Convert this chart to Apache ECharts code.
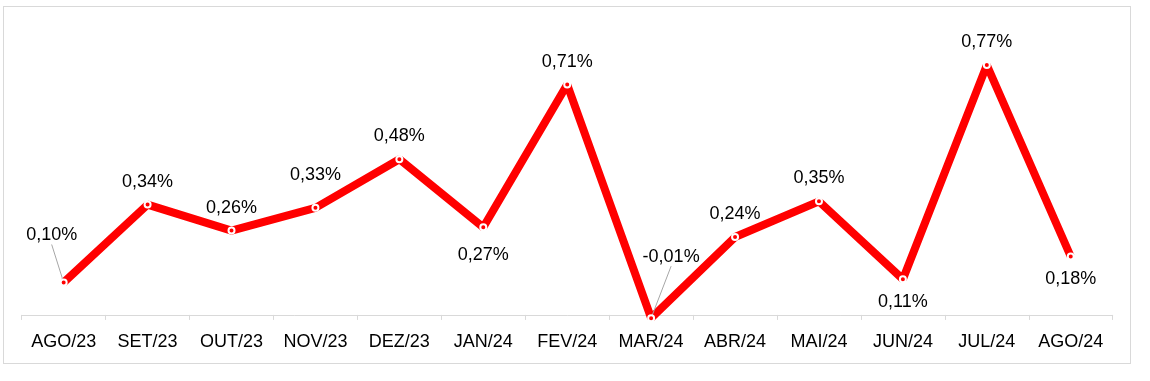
<!DOCTYPE html>
<html>
<head>
<meta charset="utf-8">
<script src="https://cdn.jsdelivr.net/npm/echarts@6/dist/echarts.min.js"></script>
<style>
  html, body { margin: 0; padding: 0; background: #fff; }
  #frame { position: absolute; left: 3px; top: 6px; width: 1128px; height: 358px; border: 1px solid #d9d9d9; box-sizing: border-box; }
  #chart { position: absolute; left: 0; top: 0; width: 1150px; height: 381px; }
</style>
</head>
<body>
<div id="frame"></div>
<div id="chart"></div>
<script>
const categories = ['AGO/23','SET/23','OUT/23','NOV/23','DEZ/23','JAN/24','FEV/24','MAR/24','ABR/24','MAI/24','JUN/24','JUL/24','AGO/24'];
const values = [0.10, 0.34, 0.26, 0.33, 0.48, 0.27, 0.71, -0.01, 0.24, 0.35, 0.11, 0.77, 0.18];

// label placement per point (style only)
const labelPlace = ['top','top','top','top','top','bottom','top','top','top','top','bottom','top','bottom'];
const labelDist  = [10, 10, 10, 20, 10, 15, 10, 10, 10, 10, 10, 10, 10];
const leaderShift = { 0: { dx: -12, dy: -24 }, 7: { dx: 20, dy: -38 } };

const fmt = v => v.toFixed(2).replace('.', ',') + '%';

const data = values.map((v, i) => ({
  value: v,
  label: { position: labelPlace[i], distance: labelDist[i] },
  labelLine: { show: leaderShift[i] !== undefined }
}));

const chart = echarts.init(document.getElementById('chart'), null, { renderer: 'canvas' });
chart.setOption({
  animation: false,
  grid: { left: 21.7, right: 37.3, top: 57, bottom: 59.6, containLabel: false },
  xAxis: {
    type: 'category',
    data: categories,
    boundaryGap: true,
    axisLine: { show: true, onZero: true, lineStyle: { color: '#d9d9d9', width: 1 } },
    axisTick: { show: true, length: 5, lineStyle: { color: '#d9d9d9' } },
    axisLabel: { color: '#000', fontFamily: 'Liberation Sans, Arial, sans-serif', fontSize: 18, margin: 12, interval: 0 },
    splitLine: { show: false }
  },
  yAxis: {
    type: 'value',
    min: -0.02,
    max: 0.795,
    show: false,
    splitLine: { show: false }
  },
  series: [{
    type: 'line',
    data: data,
    lineStyle: { color: '#ff0000', width: 8 },
    itemStyle: { color: '#ff0000', borderColor: '#ffffff', borderWidth: 2 },
    symbol: 'circle',
    symbolSize: 6,
    showAllSymbol: true,
    label: {
      show: true,
      color: '#000',
      fontFamily: 'Liberation Sans, Arial, sans-serif',
      fontSize: 18,
      formatter: p => fmt(p.value)
    },
    labelLine: { show: false, lineStyle: { color: '#a6a6a6', width: 1 } },
    labelLayout: function (params) {
      const s = leaderShift[params.dataIndex];
      return s ? { dx: s.dx, dy: s.dy } : {};
    },
    z: 3
  }]
});
</script>
</body>
</html>
